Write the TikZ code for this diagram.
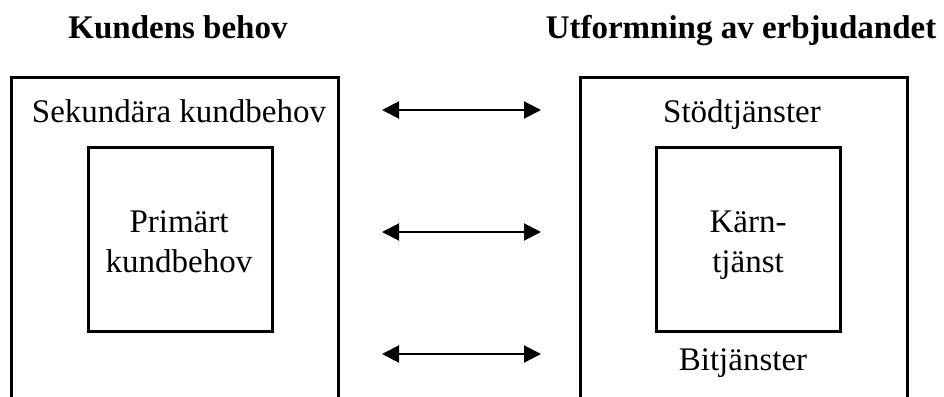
\documentclass[tikz,border=0pt]{standalone}
\usepackage{fontspec}
\setmainfont{Liberation Serif}
\usetikzlibrary{arrows.meta}
\begin{document}
\begin{tikzpicture}[x=1pt,y=-1pt,
  boxline/.style={draw=black,line width=2.5pt,rectangle,inner sep=0pt},
  lbl/.style={inner sep=0pt,font=\fontsize{33}{40}\selectfont,align=center,anchor=base},
  head/.style={inner sep=0pt,font=\fontsize{33}{40}\selectfont\bfseries,anchor=base},
  dblarrow/.style={line width=2pt,{Triangle[length=17pt,width=17pt]}-{Triangle[length=17pt,width=17pt]}}]
\useasboundingbox (0,0) rectangle (944,396);
\clip (0,0) rectangle (944,396);
% headings
\node[head] (h1) at (178,39) {Kundens behov};
\node[head] (h2) at (741,39) {Utformning av erbjudandet};
% outer boxes (open below the picture edge)
\node[boxline,minimum width=327pt,minimum height=360pt,anchor=north west] (outerL) at (10,76) {};
\node[boxline,minimum width=327pt,minimum height=360pt,anchor=north west] (outerR) at (579,76) {};
% inner boxes
\node[boxline,minimum width=184pt,minimum height=184pt,anchor=north west] (innerL) at (87,146) {};
\node[boxline,minimum width=184pt,minimum height=184pt,anchor=north west] (innerR) at (655,146) {};
% labels
\node[lbl] (sek) at (179,122) {Sekundära kundbehov};
\node[lbl] (prim) at (179,272) {Primärt\\kundbehov};
\node[lbl] (stod) at (742,122) {Stödtjänster};
\node[lbl] (karn) at (748,272) {Kärn-\\tjänst};
\node[lbl] (bit) at (743,370) {Bitjänster};
% arrows
\coordinate (a1l) at (382,110); \coordinate (a1r) at (541,110);
\coordinate (a2l) at (382,232); \coordinate (a2r) at (541,232);
\coordinate (a3l) at (382,354); \coordinate (a3r) at (541,354);
\draw[dblarrow] (a1l) -- (a1r);
\draw[dblarrow] (a2l) -- (a2r);
\draw[dblarrow] (a3l) -- (a3r);
\end{tikzpicture}
\end{document}
